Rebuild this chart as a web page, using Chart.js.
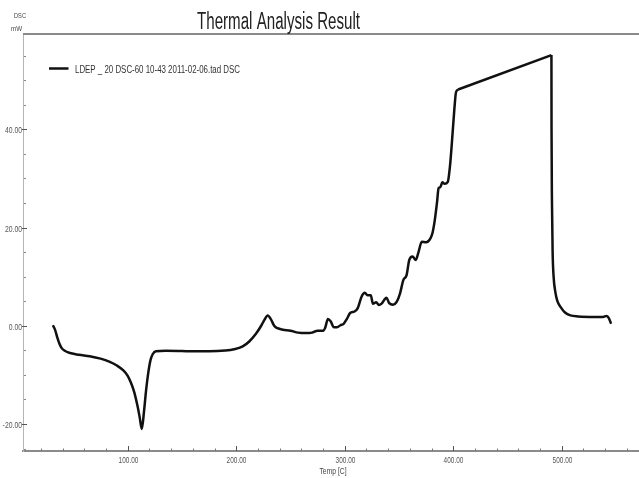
<!DOCTYPE html>
<html>
<head>
<meta charset="utf-8">
<script src="https://cdn.jsdelivr.net/npm/chart.js@4.4.1/dist/chart.umd.min.js"></script>
<style>
  html, body { margin: 0; padding: 0; background: #fff; }
  #wrap { width: 639px; height: 478px; position: relative; }
</style>
</head>
<body>
<div id="wrap"><canvas id="c" width="639" height="478"></canvas></div>
<script>
// ---- data ----
const chartTitle = "Thermal Analysis Result";
const seriesName = "LDEP _ 20 DSC-60 10-43 2011-02-06.tad DSC";
const yUnitTop = "DSC";
const yUnitBottom = "mW";
const xAxisTitle = "Temp [C]";

const temps = [31, 33, 35, 37, 39, 42, 46, 55, 65, 75, 83, 90, 96, 100, 103, 106, 109, 111, 113,
  115, 117, 119, 121, 123, 126, 135, 150, 160, 175, 190, 198, 206, 212, 218, 223, 226, 229, 232,
  235, 238, 243, 250, 257, 264, 270, 275, 280, 282, 284.5, 287, 290, 293, 296, 299, 302, 305, 309,
  312, 315.5, 318.5, 321, 324, 326, 329, 331.5, 334, 338.5, 341, 344.5, 348, 351, 354, 357, 359.5,
  362.5, 365.5, 368, 371, 375, 379, 381, 383, 385, 386.5, 388, 390, 392, 395, 397, 399, 401, 402.5,
  404.5, 490.5, 490.6, 491, 491.6, 492.5, 494, 496, 499, 503, 508, 515, 530, 538, 541.5, 543.5, 545.5];

const dsc = [0.1, -0.8, -2.3, -3.6, -4.5, -5.1, -5.5, -5.9, -6.2, -6.7, -7.3, -8.1, -9.1, -10.2, -11.6,
  -13.5, -16.3, -18.6, -21.0, -17.5, -13.0, -9.5, -7.0, -5.8, -5.2, -5.1, -5.15, -5.2, -5.2, -5.05,
  -4.8, -4.2, -3.2, -1.7, 0.0, 1.2, 2.1, 1.3, 0.0, -0.5, -0.8, -1.0, -1.4, -1.5, -1.4, -1.0, -1.0,
  -0.4, 1.4, 0.9, -0.3, -0.3, 0.1, 0.4, 1.4, 2.6, 2.9, 3.6, 5.9, 6.7, 6.2, 6.2, 4.5, 4.8, 4.2, 4.5,
  5.7, 4.6, 4.3, 4.9, 6.6, 9.3, 10.3, 13.4, 14.1, 13.4, 15.0, 17.1, 17.0, 17.8, 19.0, 21.5, 25.0,
  28.0, 28.2, 29.2, 28.9, 29.3, 32.5, 38.0, 44.0, 47.5, 48.1, 55.1, 40.0, 25.0, 15.0, 10.0, 7.0,
  5.0, 3.8, 2.7, 2.1, 1.9, 1.8, 1.8, 2.0, 1.5, 0.4];

// the instrument draws the gap 404.5 -> 490.5 as a straight line
const rampStartTemp = 404.5;
const rampEndTemp = 490.5;

const xMin = 3.5, xMax = 571.2, xStep = 20, xMajor = 100;
const yMin = -25.5, yMax = 59.4, yStep = 5, yMajor = 20;

// ---- build ----
const points = temps.map((t, i) => ({ x: t, y: dsc[i] }));
const iA = temps.indexOf(rampStartTemp);
const iB = temps.indexOf(rampEndTemp);
const partRise = points.slice(0, iA + 1);
const partRamp = points.slice(iA, iB + 1);
const partDrop = points.slice(iB);

const FONT = '"Liberation Sans", Arial, sans-serif';

function fitText(ctx, text, x, baseline, targetW, font, color, align) {
  ctx.save();
  ctx.font = font;
  ctx.fillStyle = color;
  ctx.textAlign = 'left';
  ctx.textBaseline = 'alphabetic';
  const w = ctx.measureText(text).width;
  let x0 = x;
  if (align === 'center') x0 = x - targetW / 2;
  else if (align === 'right') x0 = x - targetW;
  ctx.translate(x0, baseline);
  ctx.scale(targetW / w, 1);
  ctx.fillText(text, 0, 0);
  ctx.restore();
}

function squeezeText(ctx, text, x, baseline, sx, font, color, align) {
  ctx.save();
  ctx.font = font;
  const w = ctx.measureText(text).width * sx;
  ctx.restore();
  fitText(ctx, text, x, baseline, w, font, color, align);
}

const decor = {
  id: 'decor',
  afterDraw(chart) {
    const ctx = chart.ctx;
    const a = chart.chartArea;
    const xs = chart.scales.x, ys = chart.scales.y;
    // top frame line
    ctx.save();
    ctx.strokeStyle = '#8a8a8a';
    ctx.lineWidth = 2;
    ctx.beginPath();
    ctx.moveTo(a.left, a.top);
    ctx.lineTo(a.right, a.top);
    ctx.stroke();
    // y tick marks + labels
    ys.ticks.forEach(t => {
      const py = Math.round(ys.getPixelForValue(t.value)) + 0.5;
      const major = Math.abs(t.value % yMajor) < 1e-9;
      ctx.strokeStyle = major ? '#555' : '#888';
      ctx.lineWidth = 1;
      ctx.beginPath();
      ctx.moveTo(major ? a.left - 1 : a.left + 1, py);
      ctx.lineTo(major ? a.left + 4 : a.left + 3, py);
      ctx.stroke();
      if (major) {
        squeezeText(ctx, t.value.toFixed(2), a.left - 1, py + 3.5, 0.72, '9.5px ' + FONT, '#555', 'right');
      }
    });
    // x tick marks + labels
    xs.ticks.forEach(t => {
      const px = Math.round(xs.getPixelForValue(t.value)) + 0.5;
      const major = Math.abs(t.value % xMajor) < 1e-9;
      ctx.strokeStyle = major ? '#555' : '#777';
      ctx.lineWidth = 1;
      ctx.beginPath();
      ctx.moveTo(px, a.bottom);
      ctx.lineTo(px, a.bottom - (major ? 5 : 2.5));
      ctx.stroke();
      if (major) {
        squeezeText(ctx, t.value.toFixed(2), px, 463, 0.68, '9.5px ' + FONT, '#555', 'center');
      }
    });
    ctx.restore();
    // x axis title
    fitText(ctx, xAxisTitle, 333, 474, 27, '9.5px ' + FONT, '#444', 'center');
    // title
    fitText(ctx, chartTitle, 197, 29, 163, '23px ' + FONT, '#222');
    // y unit labels
    fitText(ctx, yUnitTop, 14, 18, 12, '7px ' + FONT, '#444');
    fitText(ctx, yUnitBottom, 11, 31, 11, '7px ' + FONT, '#444');
    // legend
    ctx.save();
    ctx.strokeStyle = '#111';
    ctx.lineWidth = 2.5;
    ctx.beginPath();
    ctx.moveTo(49, 68.5);
    ctx.lineTo(68.5, 68.5);
    ctx.stroke();
    ctx.restore();
    fitText(ctx, seriesName, 75, 72.5, 165, '10px ' + FONT, '#333');
  }
};

const lineStyle = {
  showLine: true,
  borderColor: '#111',
  borderWidth: 2.5,
  pointRadius: 0,
  fill: false
};

new Chart(document.getElementById('c'), {
  type: 'scatter',
  data: {
    datasets: [
      Object.assign({ label: seriesName, data: partRise, cubicInterpolationMode: 'monotone' }, lineStyle),
      Object.assign({ label: seriesName + ' ', data: partRamp, tension: 0 }, lineStyle),
      Object.assign({ label: seriesName + '  ', data: partDrop, cubicInterpolationMode: 'monotone' }, lineStyle)
    ]
  },
  options: {
    responsive: false,
    animation: false,
    devicePixelRatio: 1,
    layout: { padding: { top: 34, right: 0, left: 0, bottom: 0 } },
    plugins: {
      legend: { display: false },
      title: { display: false },
      tooltip: { enabled: false }
    },
    scales: {
      x: {
        type: 'linear',
        min: xMin,
        max: xMax,
        afterBuildTicks(scale) {
          const arr = [];
          for (let v = xStep; v <= xMax; v += xStep) arr.push({ value: v });
          scale.ticks = arr;
        },
        afterFit(scale) { scale.height = 27; },
        grid: { display: true, drawOnChartArea: false, drawTicks: false, color: 'rgba(0,0,0,0)' },
        border: { display: true, color: '#8a8a8a', width: 2 },
        ticks: { display: false },
        title: { display: false, text: xAxisTitle }
      },
      y: {
        type: 'linear',
        min: yMin,
        max: yMax,
        afterBuildTicks(scale) {
          const arr = [];
          for (let v = -25; v <= yMax; v += yStep) arr.push({ value: v });
          scale.ticks = arr;
        },
        afterFit(scale) { scale.width = 23; },
        grid: { display: true, drawOnChartArea: false, drawTicks: false, color: 'rgba(0,0,0,0)' },
        border: { display: true, color: '#b5b5b5', width: 1 },
        ticks: { display: false }
      }
    }
  },
  plugins: [decor]
});
</script>
</body>
</html>
